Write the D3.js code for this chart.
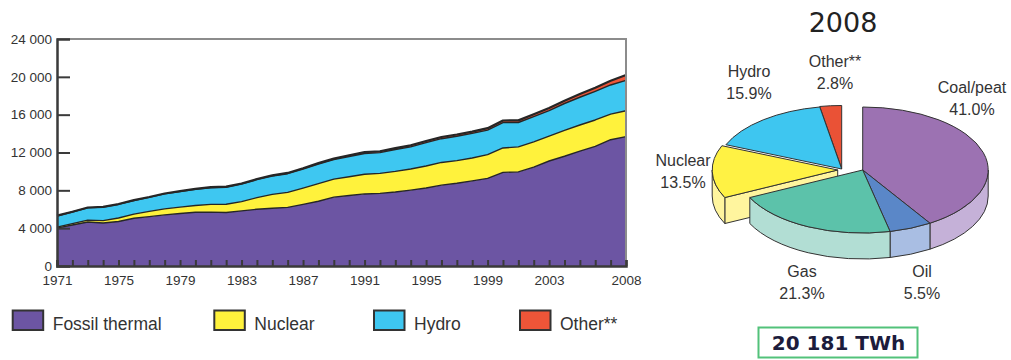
<!DOCTYPE html>
<html><head><meta charset="utf-8">
<script src="https://cdn.jsdelivr.net/npm/d3@7"></script>
<style>html,body{margin:0;padding:0;background:#fff;} svg{display:block;}</style>
</head><body><svg id="c" width="1011" height="360"></svg>
<script>
// ---------------- data ----------------
const years   = [1971,1972,1973,1974,1975,1976,1977,1978,1979,1980,1981,1982,1983,1984,1985,1986,1987,1988,1989,1990,
                 1991,1992,1993,1994,1995,1996,1997,1998,1999,2000,2001,2002,2003,2004,2005,2006,2007,2008];
const fossil  = [4000,4330,4650,4550,4700,5050,5220,5400,5550,5680,5700,5650,5830,6000,6100,6200,6520,6850,7280,7450,
                 7620,7680,7820,8020,8250,8550,8750,9000,9270,9900,9950,10450,11100,11600,12150,12650,13350,13683];
const nuclear = [110,150,200,250,380,440,560,640,680,710,820,880,980,1230,1470,1580,1720,1860,1900,1990,
                 2080,2110,2180,2240,2320,2400,2390,2420,2500,2580,2640,2680,2630,2740,2760,2790,2710,2731];
const hydro   = [1180,1230,1300,1420,1430,1440,1470,1580,1630,1720,1760,1800,1850,1900,1950,1980,2000,2060,2060,2140,
                 2200,2200,2320,2340,2470,2510,2580,2600,2600,2690,2580,2660,2700,2840,2930,3030,3080,3208];
const other   = [30,30,35,35,40,40,45,45,50,50,55,55,60,65,70,80,95,105,115,125,
                 135,145,150,160,170,175,180,190,200,215,225,245,265,295,335,385,450,565];
const seriesKeys   = ["fossil","nuclear","hydro","other"];
const seriesNames  = ["Fossil thermal","Nuclear","Hydro","Other**"];
const seriesColors = ["#6c55a3","#fff23c","#3ec7f1","#ee5538"];
const yTickValues  = [0,4000,8000,12000,16000,20000,24000];
const yTickLabels  = ["0","4 000","8 000","12 000","16 000","20 000","24 000"];
const xTickLabels  = [1971,1975,1979,1983,1987,1991,1995,1999,2003,2008];

const pieYear       = "2008";
const pieLabels     = ["Coal/peat","Oil","Gas","Nuclear","Hydro","Other**"];
const pieShares     = [41.0,5.5,21.3,13.5,15.9,2.8];
const pieTopColors  = ["#9c72b2","#5a87c8","#5cc2aa","#fff244","#3ec6f0","#ea5236"];
const pieSideColors = ["#c5b1d8","#a9bee3","#b2ded4","#fff59e","#9fe2f7","#f2a090"];
const totalLabel    = "20 181 TWh";

// ---------------- chart ----------------
const svg = d3.select("#c");
svg.append("rect").attr("width",1011).attr("height",360).attr("fill","#fff");
const axisFont = "'Liberation Sans', Arial, sans-serif";

const x = d3.scaleLinear().domain([1971,2008]).range([57,626]);
const y = d3.scaleLinear().domain([0,24000]).range([266,39]);

const rows = years.map((yr,i)=>({year:yr, fossil:fossil[i], nuclear:nuclear[i], hydro:hydro[i], other:other[i]}));
const stacked = d3.stack().keys(seriesKeys)(rows);

const area = d3.area().x(d=>x(d.data.year)).y0(d=>y(d[0])).y1(d=>y(d[1]));
const line = d3.line().x(d=>x(d.data.year)).y(d=>y(d[1]));

const gA = svg.append("g");
gA.selectAll("path.a").data(stacked).join("path")
  .attr("d",area).attr("fill",(d,i)=>seriesColors[i]);
gA.selectAll("path.l").data(stacked).join("path")
  .attr("d",line).attr("fill","none").attr("stroke","#262626")
  .attr("stroke-width",(d,i)=>i===stacked.length-1?2.2:1.4).attr("stroke-linejoin","round");

// frame top/right (gray)
svg.append("path").attr("d",`M${x(1971)},${y(24000)}H${x(2008)}V${y(0)}`)
  .attr("fill","none").attr("stroke","#8c8c8c").attr("stroke-width",2);

// y axis
const yAxis = d3.axisLeft(y).tickValues(yTickValues).tickSize(-13).tickPadding(5)
  .tickFormat((d,i)=>yTickLabels[i]);
const gy = svg.append("g").attr("transform",`translate(${x(1971)},0)`).call(yAxis);
gy.select(".domain").attr("stroke","#3a3a3a").attr("stroke-width",2.5);
gy.selectAll(".tick line").attr("stroke","#3a3a3a").attr("stroke-width",2)
  .attr("display",d=>(d===0||d===24000)?"none":null);
gy.selectAll(".tick text").attr("font-family",axisFont).attr("font-size",13.5).attr("fill","#333");

// x axis
const xAxis = d3.axisBottom(x).tickValues(years).tickSize(-6).tickPadding(9)
  .tickFormat(d=>xTickLabels.includes(d)?String(d):"");
const gx = svg.append("g").attr("transform",`translate(0,${y(0)})`).call(xAxis);
gx.select(".domain").attr("stroke","#3a3a3a").attr("stroke-width",2.5);
gx.selectAll(".tick line").attr("stroke","#3a3a3a").attr("stroke-width",2);
gx.selectAll(".tick text").attr("font-family",axisFont).attr("font-size",13.5).attr("fill","#333");

// legend
const legendX = [12.7,214.3,374,520];
const lg = svg.append("g");
seriesNames.forEach((n,i)=>{
  lg.append("rect").attr("x",legendX[i]).attr("y",310.5).attr("width",30.5).attr("height",19.5)
    .attr("fill",seriesColors[i]).attr("stroke","#333").attr("stroke-width",2);
  lg.append("text").attr("x",legendX[i]+40).attr("y",329.5).text(n)
    .attr("font-family",axisFont).attr("font-size",17.5).attr("fill","#333");
});

// ---------------- 3D pie ----------------
const cx = 862.7, cy = 170, rx = 125.5, ry = 63, depth = 26;
const shift = {"Nuclear":{dx:-25,dy:0,face:true},"Hydro":{dx:-21,dy:-1},"Other**":{dx:-21,dy:-1.5}};
const arcs = d3.pie().sort(null).value(d=>d)(pieShares)
  .map((a,i)=>Object.assign(a,{label:pieLabels[i], top:pieTopColors[i], side:pieSideColors[i]}));

function P(a,o,dz){ return [cx+o.dx+rx*Math.sin(a), cy+o.dy-ry*Math.cos(a)+(dz||0)]; }
function topPath(s,o){
  const p0=P(s.startAngle,o), p1=P(s.endAngle,o);
  const large = (s.endAngle-s.startAngle)>Math.PI?1:0;
  return `M${cx+o.dx},${cy+o.dy}L${p0}A${rx},${ry} 0 ${large} 1 ${p1}Z`;
}
function wallPath(s,o){
  const a0=Math.max(s.startAngle,Math.PI/2), a1=Math.min(s.endAngle,3*Math.PI/2);
  if(a0>=a1) return null;
  const t0=P(a0,o),t1=P(a1,o),b0=P(a0,o,depth),b1=P(a1,o,depth);
  return `M${t0}A${rx},${ry} 0 0 1 ${t1}L${b1}A${rx},${ry} 0 0 0 ${b0}Z`;
}
function startFace(s,o){
  const c=[cx+o.dx,cy+o.dy], p=P(s.startAngle,o);
  return `M${c}L${p}L${p[0]},${p[1]+depth}L${c[0]},${c[1]+depth}Z`;
}
const order = ["Other**","Hydro","Nuclear","Coal/peat","Oil","Gas"];
const gp = svg.append("g").attr("stroke","#333").attr("stroke-width",1).attr("stroke-linejoin","round");
order.forEach(lbl=>{
  const s = arcs.find(a=>a.label===lbl);
  const o = shift[lbl]||{dx:0,dy:0};
  if(o.face) gp.append("path").attr("d",startFace(s,o)).attr("fill",s.side);
  const w = wallPath(s,o);
  if(w) gp.append("path").attr("d",w).attr("fill",s.side);
  gp.append("path").attr("d",topPath(s,o)).attr("fill",s.top);
});

// pie labels
const labelPos = {"Coal/peat":[972,93],"Oil":[922,277],"Gas":[802,277],"Nuclear":[683,166],"Hydro":[749,77],"Other**":[835,67]};
const gl = svg.append("g").attr("font-family",axisFont).attr("font-size",16).attr("fill","#333").attr("text-anchor","middle");
arcs.forEach(s=>{
  const [lx,ly]=labelPos[s.label];
  gl.append("text").attr("x",lx).attr("y",ly).text(s.label);
  gl.append("text").attr("x",lx).attr("y",ly+21.5).text(d3.format(".1f")(s.value)+"%");
});

// title
svg.append("text").attr("x",843).attr("y",32).attr("text-anchor","middle")
  .attr("font-family","'DejaVu Sans', sans-serif").attr("font-size",27).attr("fill","#222").text(pieYear);

// total box
svg.append("rect").attr("x",758.5).attr("y",327.5).attr("width",159).attr("height",30)
  .attr("fill","#fff").attr("stroke","#52c27a").attr("stroke-width",2);
svg.append("text").attr("x",838.5).attr("y",350).attr("text-anchor","middle")
  .attr("font-family","'DejaVu Sans', sans-serif").attr("font-weight","bold").attr("font-size",20)
  .attr("fill","#1c1c3c").text(totalLabel);
</script></body></html>
